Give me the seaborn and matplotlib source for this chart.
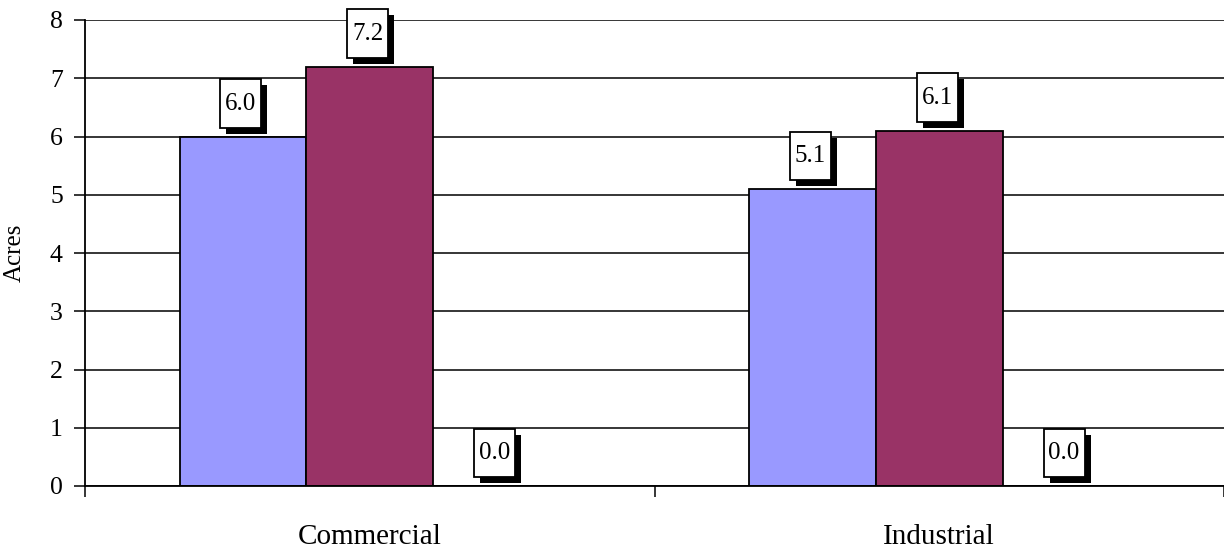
import matplotlib
matplotlib.use("Agg")
import matplotlib.pyplot as plt
import matplotlib.patheffects as pe
from matplotlib.path import Path
from matplotlib.ticker import FixedLocator, NullFormatter
import pandas as pd
import seaborn as sns

# Land area by zoning type (acres)
categories = ["Commercial", "Industrial"]
series_names = ["Series 1", "Series 2", "Series 3"]
series_1 = [6.0, 5.1]
series_2 = [7.2, 6.1]
series_3 = [0.0, 0.0]
y_ticks = [0, 1, 2, 3, 4, 5, 6, 7, 8]
y_label = "Acres"

bar_colors = ["#9999FF", "#993366", "#FFFFCC"]

rows = []
for name, values in zip(series_names, [series_1, series_2, series_3]):
    for cat, val in zip(categories, values):
        rows.append({"category": cat, "series": name, "acres": val})
df = pd.DataFrame(rows)

sns.set_style("white")
plt.rcParams["font.family"] = ["Liberation Serif", "DejaVu Serif"]
plt.rcParams["text.color"] = "black"
plt.rcParams["axes.labelcolor"] = "black"
plt.rcParams["xtick.color"] = "black"
plt.rcParams["ytick.color"] = "black"

fig = plt.figure(figsize=(12.24, 5.5), dpi=100)
ax = fig.add_axes([85 / 1224, 64 / 550, 1 - 85 / 1224, 466 / 550])

sns.barplot(
    data=df, x="category", y="acres", hue="series",
    order=categories, hue_order=series_names,
    palette=bar_colors, saturation=1, width=0.668, gap=0,
    edgecolor="black", linewidth=1.3, errorbar=None,
    legend=False, ax=ax,
)

ax.set_xlim(-0.5, 1.5)
ax.set_ylim(0, 8)
ax.set_yticks(y_ticks)
ax.set_axisbelow(True)
ax.yaxis.grid(True, color="black", linewidth=1.1)
ax.xaxis.grid(False)

for side in ("top", "right"):
    ax.spines[side].set_visible(False)
for side in ("left", "bottom"):
    ax.spines[side].set_color("black")
    ax.spines[side].set_linewidth(1.3)

# category separators as minor ticks on the x axis
ax.xaxis.set_minor_locator(FixedLocator([-0.5, 0.5, 1.5]))
ax.xaxis.set_minor_formatter(NullFormatter())
ax.tick_params(axis="x", which="major", length=0, pad=27.5, labelsize=21)
ax.tick_params(axis="x", which="minor", length=8, width=1.1, direction="out", bottom=True)
ax.tick_params(axis="y", which="major", length=8, width=1.1, direction="out",
               left=True, pad=8, labelsize=18.5)

ax.set_xlabel("")
ax.set_ylabel(y_label, fontsize=18)
ax.yaxis.set_label_coords(-0.052, 0.5)


def label_box(x0, y0, width, height, mutation_size):
    padx = 0.195 * mutation_size
    pady = 0.53 * mutation_size
    x0, y0 = x0 - padx, y0 - pady
    x1, y1 = x0 + width + 2 * padx, y0 + height + 2 * pady
    return Path([(x0, y0), (x1, y0), (x1, y1), (x0, y1), (x0, y0)], closed=True)


all_values = [series_1, series_2, series_3]
for container, values in zip(ax.containers, all_values):
    for bar, val in zip(container.patches, values):
        xc = bar.get_x() + bar.get_width() / 2
        t = ax.annotate(
            f"{val:.1f}", xy=(xc, val), xytext=(-2, 33), textcoords="offset pixels",
            ha="center", va="center", fontsize=18, color="black",
            bbox=dict(boxstyle=label_box, facecolor="white", edgecolor="black", linewidth=1.3),
            annotation_clip=False,
        )
        t.get_bbox_patch().set_path_effects([
            pe.SimplePatchShadow(offset=(4.3, -4.3), shadow_rgbFace="black", alpha=1.0),
            pe.Normal(),
        ])

fig.savefig("out.png", dpi=100)
